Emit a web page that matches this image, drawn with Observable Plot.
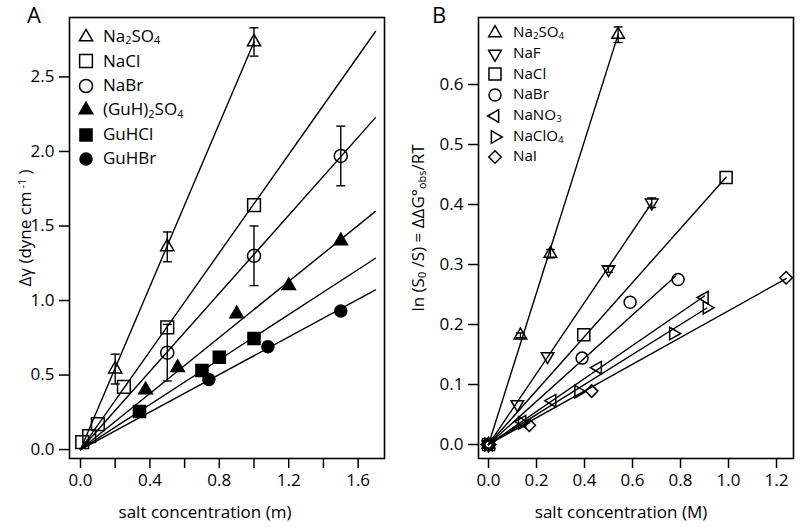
<!DOCTYPE html>
<html><head><meta charset="utf-8">
<script src="https://cdn.jsdelivr.net/npm/d3@7"></script>
<script src="https://cdn.jsdelivr.net/npm/@observablehq/plot@0.6"></script>
<style>
body{margin:0;background:#fff;}
#fig{position:relative;width:800px;height:527px;font-family:"Open Sans",sans-serif;color:#000;overflow:hidden;background:#fff}
.panel{position:absolute;top:0}
.t{position:absolute;font-size:16.5px;white-space:nowrap;line-height:1}
.rot{transform:translate(-50%,-50%) rotate(-90deg);}
.ctr{transform:translate(-50%,0);}
sub{font-size:0.64em;vertical-align:baseline;position:relative;top:0.2em;line-height:0}
sup{font-size:0.64em;vertical-align:baseline;position:relative;top:-0.5em;line-height:0}
.sym{position:absolute;overflow:visible}
</style></head><body><div id="fig"></div>
<script>
// ---------------- Panel A data ----------------
const seriesA = ["Na2SO4", "NaCl", "NaBr", "(GuH)2SO4", "GuHCl", "GuHBr"];
const a_Na2SO4_x = [0.2, 0.5, 1.0];
const a_Na2SO4_y = [0.54, 1.36, 2.735];
const a_NaCl_x = [0.01, 0.05, 0.1, 0.25, 0.5, 1.0];
const a_NaCl_y = [0.05, 0.09, 0.17, 0.42, 0.82, 1.64];
const a_NaBr_x = [0.5, 1.0, 1.5];
const a_NaBr_y = [0.65, 1.30, 1.97];
const a_GuH2SO4_x = [0.375, 0.56, 0.9, 1.2, 1.5];
const a_GuH2SO4_y = [0.40, 0.55, 0.91, 1.10, 1.40];
const a_GuHCl_x = [0.34, 0.7, 0.8, 1.0];
const a_GuHCl_y = [0.255, 0.53, 0.62, 0.745];
const a_GuHBr_x = [0.74, 1.08, 1.5];
const a_GuHBr_y = [0.47, 0.69, 0.93];
const a_slopes = [2.735, 1.65, 1.31, 0.94, 0.755, 0.63];
const a_lineEnd = [1.0, 1.7, 1.7, 1.7, 1.7, 1.7];
const a_errSeries = ["Na2SO4", "Na2SO4", "Na2SO4", "NaBr", "NaBr", "NaBr"];
const a_errX = [0.2, 0.5, 1.0, 0.5, 1.0, 1.5];
const a_errY = [0.54, 1.36, 2.735, 0.65, 1.30, 1.97];
const a_errE = [0.10, 0.10, 0.095, 0.19, 0.20, 0.20];
const a_xTicks = [0, 0.2, 0.4, 0.6, 0.8, 1.0, 1.2, 1.4, 1.6];
const a_xLabels = ["0.0", "", "0.4", "", "0.8", "", "1.2", "", "1.6"];
const a_yTicks = [0, 0.5, 1.0, 1.5, 2.0, 2.5];
const a_legend = ["Na<sub>2</sub>SO<sub>4</sub>", "NaCl", "NaBr", "(GuH)<sub>2</sub>SO<sub>4</sub>", "GuHCl", "GuHBr"];

// ---------------- Panel B data ----------------
const seriesB = ["Na2SO4", "NaF", "NaCl", "NaBr", "NaNO3", "NaClO4", "NaI"];
const b_Na2SO4_x = [0, 0.133, 0.258, 0.54];
const b_Na2SO4_y = [0, 0.182, 0.318, 0.683];
const b_NaF_x = [0, 0.12, 0.246, 0.5, 0.68];
const b_NaF_y = [0, 0.067, 0.147, 0.292, 0.403];
const b_NaCl_x = [0, 0.397, 0.99];
const b_NaCl_y = [0, 0.183, 0.445];
const b_NaBr_x = [0, 0.39, 0.59, 0.79];
const b_NaBr_y = [0, 0.144, 0.237, 0.275];
const b_NaNO3_x = [0, 0.14, 0.265, 0.455, 0.9];
const b_NaNO3_y = [0, 0.038, 0.073, 0.128, 0.245];
const b_NaClO4_x = [0, 0.14, 0.375, 0.77, 0.91];
const b_NaClO4_y = [0, 0.036, 0.088, 0.185, 0.228];
const b_NaI_x = [0, 0.17, 0.43, 1.24];
const b_NaI_y = [0, 0.032, 0.089, 0.278];
const b_slopes = [1.265, 0.592, 0.45, 0.36, 0.275, 0.25, 0.223];
const b_lineEnd = [0.54, 0.68, 0.99, 0.78, 0.9, 0.91, 1.24];
const b_errSeries = ["Na2SO4", "Na2SO4", "Na2SO4", "NaF", "NaF"];
const b_errX = [0.133, 0.258, 0.54, 0.5, 0.68];
const b_errY = [0.182, 0.318, 0.683, 0.292, 0.403];
const b_errE = [0.004, 0.007, 0.013, 0.005, 0.008];
const b_xTicks = [0, 0.2, 0.4, 0.6, 0.8, 1.0, 1.2];
const b_yTicks = [0, 0.1, 0.2, 0.3, 0.4, 0.5, 0.6];
const b_legend = ["Na<sub>2</sub>SO<sub>4</sub>", "NaF", "NaCl", "NaBr", "NaNO<sub>3</sub>", "NaClO<sub>4</sub>", "NaI"];

// ---------------- styles ----------------
const styleA = [
  {sym: "triangle2", rot: 0, fill: "none", r: 6.3},
  {sym: "square", rot: 0, fill: "none", r: 7.2},
  {sym: "circle", rot: 0, fill: "none", r: 6.5},
  {sym: "triangle2", rot: 0, fill: "black", r: 6.4},
  {sym: "square", rot: 0, fill: "black", r: 6.8},
  {sym: "circle", rot: 0, fill: "black", r: 6.0}
];
const styleB = [
  {sym: "triangle2", rot: 0, fill: "none", r: 6.0},
  {sym: "triangle2", rot: 180, fill: "none", r: 6.0},
  {sym: "square", rot: 0, fill: "none", r: 6.8},
  {sym: "circle", rot: 0, fill: "none", r: 6.0},
  {sym: "triangle2", rot: -90, fill: "none", r: 6.0},
  {sym: "triangle2", rot: 90, fill: "none", r: 6.0},
  {sym: "diamond2", rot: 0, fill: "none", r: 5.6}
];
const capSymbol = {draw(ctx, size) { const w = Math.sqrt(size / Math.PI); ctx.moveTo(-w, 0); ctx.lineTo(w, 0); }};
const FONT = '"Open Sans", sans-serif';

function pts(xs, ys) { return xs.map((x, i) => ({x, y: ys[i]})); }

const dataA = [pts(a_Na2SO4_x, a_Na2SO4_y), pts(a_NaCl_x, a_NaCl_y), pts(a_NaBr_x, a_NaBr_y),
  pts(a_GuH2SO4_x, a_GuH2SO4_y), pts(a_GuHCl_x, a_GuHCl_y), pts(a_GuHBr_x, a_GuHBr_y)];
const dataB = [pts(b_Na2SO4_x, b_Na2SO4_y), pts(b_NaF_x, b_NaF_y), pts(b_NaCl_x, b_NaCl_y),
  pts(b_NaBr_x, b_NaBr_y), pts(b_NaNO3_x, b_NaNO3_y), pts(b_NaClO4_x, b_NaClO4_y), pts(b_NaI_x, b_NaI_y)];

function errRows(xs, ys, es) { return xs.map((x, i) => ({x, y: ys[i], lo: ys[i] - es[i], hi: ys[i] + es[i]})); }

function panel({data, styles, slopes, ends, errs, xDomain, yDomain, margins, xTicks, xFmt, yTicks}) {
  const marks = [];
  data.forEach((d, i) => {
    marks.push(Plot.line([{x: 0, y: 0}, {x: ends[i], y: slopes[i] * ends[i]}],
      {x: "x", y: "y", stroke: "black", strokeWidth: 1.4}));
  });
  marks.push(Plot.ruleX(errs, {x: "x", y1: "lo", y2: "hi", stroke: "black", strokeWidth: 1.4}));
  marks.push(Plot.dot(errs, {x: "x", y: "lo", symbol: capSymbol, r: 4.5, stroke: "black", strokeWidth: 1.4}));
  marks.push(Plot.dot(errs, {x: "x", y: "hi", symbol: capSymbol, r: 4.5, stroke: "black", strokeWidth: 1.4}));
  data.forEach((d, i) => {
    const s = styles[i];
    marks.push(Plot.dot(d, {x: "x", y: "y", symbol: s.sym, r: s.r, rotate: s.rot,
      fill: s.fill, stroke: "black", strokeWidth: 1.5}));
  });
  marks.push(Plot.axisX({ticks: xTicks, tickFormat: xFmt, tickSize: 10, tickPadding: 5, label: null, strokeWidth: 1.5, fontSize: 17}));
  marks.push(Plot.axisY({ticks: yTicks, tickFormat: ".1f", tickSize: 10, tickPadding: 5, label: null, strokeWidth: 1.5, fontSize: 17}));
  marks.push(Plot.frame({stroke: "black", strokeWidth: 1.6}));
  return Plot.plot({
    width: 400, height: 527,
    marginLeft: margins[0], marginRight: margins[1], marginTop: margins[2], marginBottom: margins[3],
    x: {domain: xDomain}, y: {domain: yDomain},
    style: {fontFamily: FONT, fontSize: "17px", color: "black", background: "transparent", overflow: "visible"},
    marks
  });
}

const fig = document.getElementById("fig");

const pA = panel({
  data: dataA, styles: styleA, slopes: a_slopes, ends: a_lineEnd,
  errs: errRows(a_errX, a_errY, a_errE),
  xDomain: [-0.0634, 1.752], yDomain: [-0.060, 2.899], margins: [69, 16, 17, 69],
  xTicks: a_xTicks, xFmt: (d) => a_xLabels[a_xTicks.indexOf(d)] ?? "", yTicks: a_yTicks
});
pA.classList.add("panel"); pA.style.left = "0px";
fig.appendChild(pA);

const pB = panel({
  data: dataB, styles: styleB, slopes: b_slopes, ends: b_lineEnd,
  errs: errRows(b_errX, b_errY, b_errE),
  xDomain: [-0.0417, 1.2708], yDomain: [-0.0233, 0.7117], margins: [78, 7, 17, 69],
  xTicks: b_xTicks, xFmt: ".1f", yTicks: b_yTicks
});
pB.classList.add("panel"); pB.style.left = "400px";
fig.appendChild(pB);

function addText(html, css, cls) {
  const el = document.createElement("div");
  el.className = "t" + (cls ? " " + cls : "");
  el.innerHTML = html;
  Object.assign(el.style, css);
  fig.appendChild(el);
  return el;
}
// panel letters
addText("A", {left: "27px", top: "3px", fontSize: "22px"});
addText("B", {left: "432px", top: "3px", fontSize: "22px"});
// axis titles
addText("salt concentration (m)", {left: "205px", top: "503px", fontSize: "17px"}, "ctr");
addText("salt concentration (M)", {left: "621px", top: "503px", fontSize: "17px"}, "ctr");
addText("Δγ (dyne cm<sup> -1</sup> )", {left: "24px", top: "228px", fontSize: "17px"}, "rot");
addText("ln (S<sub>0</sub> /S) = ΔΔG°<sub>obs</sub>/RT", {left: "417px", top: "228px", fontSize: "17px"}, "rot");

// legends
const symMap = {triangle2: d3.symbolTriangle2, square: d3.symbolSquare, circle: d3.symbolCircle, diamond2: d3.symbolDiamond2};
const SVGNS = "http://www.w3.org/2000/svg";
function legend(labels, styles, sx, tx, y0, dy, fs) {
  labels.forEach((lab, i) => {
    const s = styles[i];
    const cy = y0 + i * dy;
    const svg = document.createElementNS(SVGNS, "svg");
    svg.setAttribute("width", "24"); svg.setAttribute("height", "24");
    svg.setAttribute("class", "sym");
    svg.style.left = (sx - 12) + "px"; svg.style.top = (cy - 12) + "px";
    const p = document.createElementNS(SVGNS, "path");
    p.setAttribute("d", d3.symbol(symMap[s.sym], s.r * s.r * Math.PI)());
    p.setAttribute("transform", `translate(12,12) rotate(${s.rot})`);
    p.setAttribute("fill", s.fill); p.setAttribute("stroke", "black"); p.setAttribute("stroke-width", "1.5");
    svg.appendChild(p);
    fig.appendChild(svg);
    addText(lab, {left: tx + "px", top: (cy - fs * 0.58) + "px", fontSize: fs + "px"});
  });
}
legend(a_legend, styleA, 86, 103, 37, 24.4, 17);
legend(b_legend, styleB, 495, 513, 33, 20.7, 15.2);
</script>
</body></html>
